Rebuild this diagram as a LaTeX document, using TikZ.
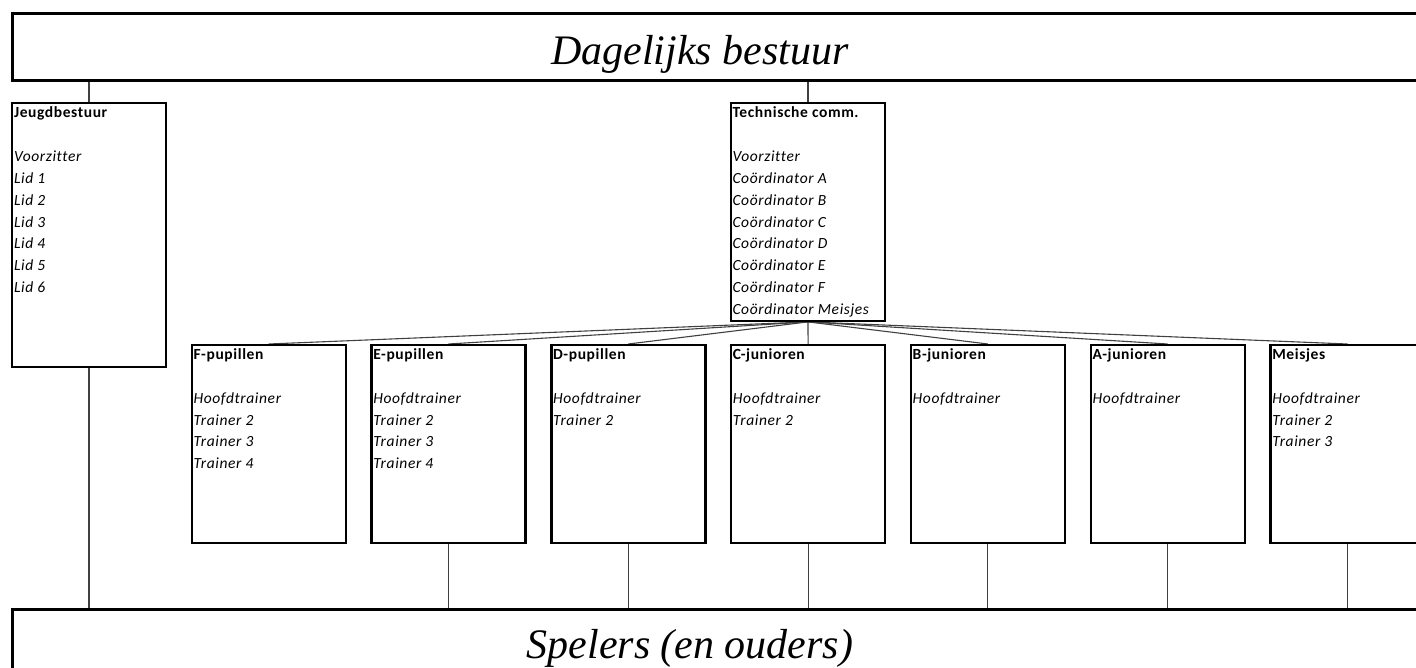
\documentclass[tikz,border=0pt]{standalone}
\usepackage{fontspec}
\setmainfont{Liberation Serif}
\newfontfamily\boxfont[LetterSpace=4,Ligatures=NoCommon]{Carlito}
\usetikzlibrary{calc}
\pgfdeclarelayer{bg}
\pgfsetlayers{bg,main}
\newcommand\orgunitlist[2]{{\itshape\begin{tabular}[t]{@{}l@{}}{\upshape\bfseries #1}\\ \\ #2\end{tabular}}}
\tikzset{
 banner/.style={draw=black, line width=2.7pt, fill=white, anchor=north west, inner sep=0pt},
 unitbox/.style={draw=black, line width=2.4pt, fill=white, anchor=north west, inner sep=0pt, minimum width=154pt, minimum height=197.5pt},
 conn/.style={draw=black!75, line width=1.1pt},
 boxtext/.style={anchor=base west, inner sep=0pt, font=\boxfont\fontsize{15.5}{21.85}\selectfont},
 bigtext/.style={anchor=base, inner sep=0pt, font=\fontsize{42}{50}\selectfont\itshape},
}
\begin{document}
\begin{tikzpicture}[x=1pt,y=-1pt]
\useasboundingbox (0,0) rectangle (1416,668);
\clip (0,0) rectangle (1416,668);
% banners
\node[banner, minimum width=1430pt, minimum height=67pt] (top) at (11,12) {};
\node[banner, minimum width=1430pt, minimum height=80pt] (bot) at (11,607.8) {};
\node[bigtext] (dbtxt) at (700,65) {Dagelijks bestuur};
\node[bigtext] (sptxt) at (690,658) {Spelers (en ouders)};
% boards
\node[unitbox, minimum width=153.5pt, minimum height=263.5pt] (jeugd) at (11,102) {};
\node[unitbox, minimum width=154.5pt, minimum height=217.5pt] (tech) at (729.5,102) {};
\foreach \n [count=\i from 0] in {fpup,epup,dpup,cjun,bjun,ajun,meis}
  \node[unitbox] (\n) at (190.5+179.8*\i, 344) {};
% texts
\node[boxtext] (jtxt) at ($(jeugd.north west)+(2.8,15.8)$)
  {\orgunitlist{Jeugdbestuur}{Voorzitter\\ Lid 1\\ Lid 2\\ Lid 3\\ Lid 4\\ Lid 5\\ Lid 6}};
\node[boxtext] (ttxt) at ($(tech.north west)+(2.8,15.8)$)
  {\orgunitlist{Technische comm.}{Voorzitter\\ Coördinator A\\ Coördinator B\\ Coördinator C\\ Coördinator D\\ Coördinator E\\ Coördinator F\\ Coördinator Meisjes}};
\node[boxtext] (ftxt) at ($(fpup.north west)+(2.8,15.5)$)
  {\orgunitlist{F-pupillen}{Hoofdtrainer\\ Trainer 2\\ Trainer 3\\ Trainer 4}};
\node[boxtext] (etxt) at ($(epup.north west)+(2.8,15.5)$)
  {\orgunitlist{E-pupillen}{Hoofdtrainer\\ Trainer 2\\ Trainer 3\\ Trainer 4}};
\node[boxtext] (dtxt) at ($(dpup.north west)+(2.8,15.5)$)
  {\orgunitlist{D-pupillen}{Hoofdtrainer\\ Trainer 2}};
\node[boxtext] (ctxt) at ($(cjun.north west)+(2.8,15.5)$)
  {\orgunitlist{C-junioren}{Hoofdtrainer\\ Trainer 2}};
\node[boxtext] (btxt) at ($(bjun.north west)+(2.8,15.5)$)
  {\orgunitlist{B-junioren}{Hoofdtrainer}};
\node[boxtext] (atxt) at ($(ajun.north west)+(2.8,15.5)$)
  {\orgunitlist{A-junioren}{Hoofdtrainer}};
\node[boxtext] (mtxt) at ($(meis.north west)+(2.8,15.5)$)
  {\orgunitlist{Meisjes}{Hoofdtrainer\\ Trainer 2\\ Trainer 3}};
% connectors
\begin{pgfonlayer}{bg}
\draw[conn] (top.south -| jeugd.north) -- (jeugd.north);
\draw[conn] (top.south -| tech.north) -- (tech.north);
\draw[conn] (jeugd.south) -- (jeugd.south |- bot.north);
\foreach \n in {fpup,epup,dpup,cjun,bjun,ajun,meis}
  \draw[conn] (tech.south) -- (\n.north);
\foreach \n in {epup,dpup,cjun,bjun,ajun,meis}
  \draw[conn] (\n.south) -- (\n.south |- bot.north);
\end{pgfonlayer}
\end{tikzpicture}
\end{document}
